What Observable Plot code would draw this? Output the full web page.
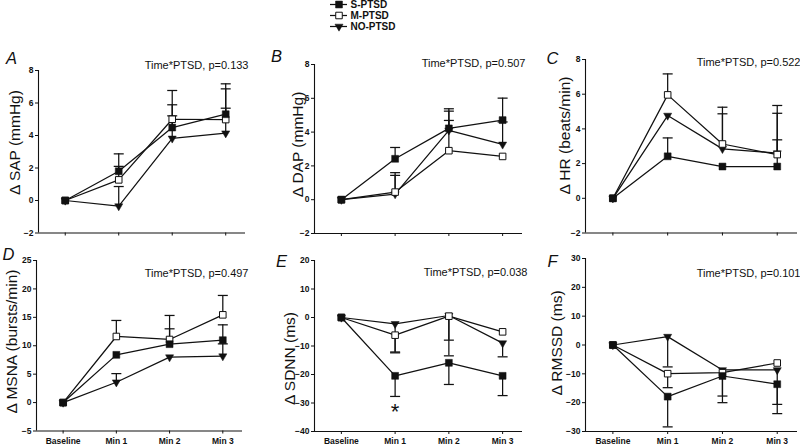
<!DOCTYPE html>
<html>
<head>
<meta charset="utf-8">
<script src="https://cdn.jsdelivr.net/npm/d3@7"></script>
<script src="https://cdn.jsdelivr.net/npm/@observablehq/plot@0.6"></script>
<style>
  html, body { margin: 0; padding: 0; background: #fff; overflow: hidden; }
  #chart { position: relative; width: 800px; height: 447px; font-family: "Liberation Sans", Arial, sans-serif; }
  #chart svg { position: absolute; overflow: visible; }
</style>
</head>
<body>
<div id="chart"></div>
<script>
// ---------- data ----------
const categories = ["Baseline", "Min 1", "Min 2", "Min 3"];
const groups = ["S-PTSD", "M-PTSD", "NO-PTSD"];
const pValues = ["0.133", "0.507", "0.522", "0.497", "0.038", "0.101"];
const yLabels = ["Δ SAP (mmHg)", "Δ DAP (mmHg)", "Δ HR (beats/min)", "Δ MSNA (bursts/min)", "Δ SDNN (ms)", "Δ RMSSD (ms)"];
const panelLetters = ["A", "B", "C", "D", "E", "F"];

// A: Δ SAP
const sapS = [0, 1.80, 4.49, 5.31];
const sapM = [0, 1.27, 5.00, 4.98];
const sapNo = [0, -0.35, 3.82, 4.14];
const sapSErr = [null, 2.87, 5.89, 7.18];
const sapMErr = [null, 2.10, 6.77, 6.87];
const sapNoErr = [null, 0.86, 5.21, 5.68];
const sapTicks = [-2, 0, 2, 4, 6, 8];

// B: Δ DAP
const dapS = [0, 2.42, 4.22, 4.71];
const dapM = [0, 0.45, 2.90, 2.56];
const dapNo = [0, 0.33, 4.10, 3.27];
const dapSErr = [null, 3.09, 5.38, 6.01];
const dapMErr = [null, 1.60, 4.69, null];
const dapNoErr = [null, 1.44, 5.24, 4.60];
const dapTicks = [-2, 0, 2, 4, 6, 8];

// C: Δ HR
const hrS = [0, 2.42, 1.83, 1.83];
const hrM = [0, 5.96, 3.13, 2.52];
const hrNo = [0, 4.77, 2.85, 2.60];
const hrSErr = [null, 3.48, null, 3.37];
const hrMErr = [null, 7.17, 5.25, 5.35];
const hrNoErr = [null, null, 4.87, 4.90];
const hrTicks = [-2, 0, 2, 4, 6, 8];

// D: Δ MSNA
const msnaS = [0, 8.40, 10.28, 10.98];
const msnaM = [0, 11.63, 11.10, 15.44];
const msnaNo = [0, 3.58, 7.99, 8.16];
const msnaSErr = [null, null, 12.98, 13.68];
const msnaMErr = [null, 14.45, 15.33, 18.85];
const msnaNoErr = [null, 5.10, null, 10.33];
const msnaTicks = [-5, 0, 5, 10, 15, 20, 25];

// E: Δ SDNN
const sdnnS = [0, -20.47, -15.9, -20.47];
const sdnnM = [0, -6.2, 0.47, -5.03];
const sdnnNo = [0, -2.22, 0.70, -9.0];
const sdnnSErr = [null, -27.7, -23.5, -27.4];
const sdnnMErr = [null, -12.4, -7.95, null];
const sdnnNoErr = [null, -12.1, -13.45, -13.8];
const sdnnSig = [null, "*", null, null];
const sdnnTicks = [-40, -30, -20, -10, 0, 10, 20];

// F: Δ RMSSD
const rmssdS = [0, -17.9, -10.75, -13.6];
const rmssdM = [0, -9.94, -9.6, -6.24];
const rmssdNo = [0, 2.9, -8.67, -8.67];
const rmssdSErr = [null, -28.4, -20.0, -23.8];
const rmssdMErr = [null, -14.8, -17.7, null];
const rmssdNoErr = [null, -7.6, null, -20.6];
const rmssdTicks = [-30, -20, -10, 0, 10, 20, 30];

// ---------- layout (page pixels) ----------
const panels = [
  {vals: [sapS, sapM, sapNo], errs: [sapSErr, sapMErr, sapNoErr], ticks: sapTicks, sig: null,
   frame: {l: 38, r: 245, t: 70, b: 232.5}, bottomRow: false, mr: 8,
   letter: [-27, -12], anno: [3, -5], lab: [-23, 72]},
  {vals: [dapS, dapM, dapNo], errs: [dapSErr, dapMErr, dapNoErr], ticks: dapTicks, sig: null,
   frame: {l: 314, r: 522, t: 64, b: 233}, bottomRow: false, mr: 8,
   letter: [-38, -8], anno: [3, -1], lab: [-16, 80]},
  {vals: [hrS, hrM, hrNo], errs: [hrSErr, hrMErr, hrNoErr], ticks: hrTicks, sig: null,
   frame: {l: 585, r: 797, t: 59, b: 232.5}, bottomRow: false, mr: 3,
   letter: [-33, -1], anno: [3, 3], lab: [-20, 76]},
  {vals: [msnaS, msnaM, msnaNo], errs: [msnaSErr, msnaMErr, msnaNoErr], ticks: msnaTicks, sig: null,
   frame: {l: 36, r: 242, t: 260, b: 430.5}, bottomRow: true, mr: 8,
   letter: [-28, -6], anno: [6, 13], lab: [-24.5, 81]},
  {vals: [sdnnS, sdnnM, sdnnNo], errs: [sdnnSErr, sdnnMErr, sdnnNoErr], ticks: sdnnTicks, sig: sdnnSig,
   frame: {l: 314, r: 522, t: 260, b: 431}, bottomRow: true, mr: 8,
   letter: [-33, 1], anno: [5, 12], lab: [-24, 98]},
  {vals: [rmssdS, rmssdM, rmssdNo], errs: [rmssdSErr, rmssdMErr, rmssdNoErr], ticks: rmssdTicks, sig: null,
   frame: {l: 585, r: 797, t: 258, b: 431}, bottomRow: true, mr: 3,
   letter: [-33, 3], anno: [3, 15], lab: [-28, 84.5]}
];

const FONT = "Liberation Sans, Arial, sans-serif";
const INK = "#111";
const SW = 1.25;
const xDomain = [-0.5, 3.37];
const cap = {draw(ctx) { ctx.moveTo(-5, 0); ctx.lineTo(5, 0); }};

const chart = document.getElementById("chart");

panels.forEach((p, k) => {
  const rows = [];
  groups.forEach((g, gi) => {
    p.vals[gi].forEach((v, i) => rows.push({group: g, i, v, err: p.errs[gi][i], sig: gi === 0 && p.sig ? p.sig[i] : null}));
  });
  const errRows = rows.filter(d => d.err != null);
  const sigRows = rows.filter(d => d.sig);
  const ML = 38, MT = 30, MB = p.bottomRow ? 16 : 6;
  const width = (p.frame.r - p.frame.l) + ML + p.mr;
  const height = (p.frame.b - p.frame.t) + MT + MB;
  const yDomain = [p.ticks[0], p.ticks[p.ticks.length - 1]];

  const svg = Plot.plot({
    width, height,
    marginLeft: ML, marginRight: p.mr, marginTop: MT, marginBottom: MB,
    style: {fontFamily: FONT, fontSize: "10px", color: INK, background: "transparent", overflow: "visible"},
    x: {type: "linear", domain: xDomain, axis: null},
    y: {type: "linear", domain: yDomain, axis: null},
    marks: [
      Plot.ruleX([xDomain[0]], {stroke: INK, strokeWidth: 1.1}),
      Plot.ruleY([yDomain[0]], {stroke: INK, strokeWidth: 1.1}),
      Plot.axisY(p.ticks, {tickSize: 3, tickPadding: 2, fontSize: 8.5, fontWeight: "bold", label: null, stroke: INK, fill: INK}),
      Plot.axisX([0, 1, 2, 3], {tickSize: 3, tickPadding: 3.5, fontSize: 8.5, fontWeight: "bold", label: null, stroke: INK, fill: INK,
        tickFormat: i => p.bottomRow ? categories[i] : ""}),
      Plot.line(rows, {x: "i", y: "v", z: "group", stroke: INK, strokeWidth: SW}),
      Plot.ruleX(errRows, {x: "i", y1: "v", y2: "err", stroke: INK, strokeWidth: SW}),
      Plot.dot(errRows, {x: "i", y: "err", symbol: cap, r: 5, stroke: INK, fill: "none", strokeWidth: SW}),
      Plot.dot(rows.filter(d => d.group === groups[2]), {x: "i", y: "v", symbol: "triangle", rotate: 180, r: 3, fill: INK, stroke: INK, strokeWidth: 0.5}),
      Plot.dot(rows.filter(d => d.group === groups[1]), {x: "i", y: "v", symbol: "square", r: 3.7, fill: "white", stroke: INK, strokeWidth: 1}),
      Plot.dot(rows.filter(d => d.group === groups[0]), {x: "i", y: "v", symbol: "square", r: 3.9, fill: INK, stroke: INK, strokeWidth: 0.5}),
      Plot.text(sigRows, {x: "i", y: "err", text: "sig", dy: 15.5, fontSize: 22, fill: INK}),
      Plot.text([pValues[k]], {frameAnchor: "top-right", text: d => `Time*PTSD, p=${d}`, textAnchor: "end", lineAnchor: "middle",
        dx: p.anno[0], dy: p.anno[1], fontSize: 11, fill: INK}),
      Plot.text([panelLetters[k]], {frameAnchor: "top-left", text: d => d, textAnchor: "middle", lineAnchor: "middle",
        dx: p.letter[0], dy: p.letter[1], fontSize: 16.5, fontStyle: "italic", fill: INK}),
      Plot.text([yLabels[k]], {frameAnchor: "top-left", text: d => d, textAnchor: "middle", lineAnchor: "middle",
        dx: p.lab[0], dy: p.lab[1], rotate: -90, fontSize: 15.5, fill: INK})
    ]
  });
  svg.style.left = (p.frame.l - ML) + "px";
  svg.style.top = (p.frame.t - MT) + "px";
  chart.appendChild(svg);
});

// ---------- legend ----------
const legendRows = groups.map(g => ({group: g}));
const legend = Plot.plot({
  width: 110, height: 30,
  marginLeft: 10, marginRight: 83, marginTop: 4, marginBottom: 4,
  style: {fontFamily: FONT, fontSize: "10px", color: INK, background: "transparent", overflow: "visible"},
  x: {type: "linear", domain: [0, 1], axis: null},
  y: {type: "point", domain: groups, padding: 0, axis: null},
  marks: [
    Plot.ruleY(legendRows, {y: "group", stroke: INK, strokeWidth: SW}),
    Plot.dot(legendRows.filter(d => d.group === groups[0]), {y: "group", symbol: "square", r: 3.9, fill: INK, stroke: INK, strokeWidth: 0.5}),
    Plot.dot(legendRows.filter(d => d.group === groups[1]), {y: "group", symbol: "square", r: 3.7, fill: "white", stroke: INK, strokeWidth: 1}),
    Plot.dot(legendRows.filter(d => d.group === groups[2]), {y: "group", symbol: "triangle", rotate: 180, r: 3, fill: INK, stroke: INK, strokeWidth: 0.5}),
    Plot.text(legendRows, {y: "group", text: "group", frameAnchor: "right", textAnchor: "start", lineAnchor: "middle", dx: 3, fontSize: 10, fontWeight: "bold", fill: INK})
  ]
});
legend.style.left = "320px";
legend.style.top = "0px";
chart.appendChild(legend);
</script>
</body>
</html>
